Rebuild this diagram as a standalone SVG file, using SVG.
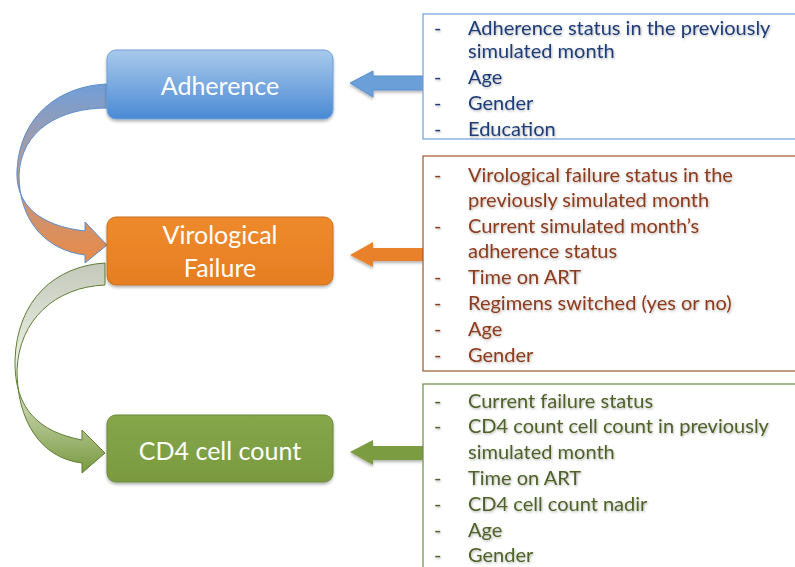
<svg xmlns="http://www.w3.org/2000/svg" width="795" height="567" viewBox="0 0 795 567">
<defs>
<linearGradient id="gBlue" x1="0" y1="0" x2="0" y2="1"><stop offset="0" stop-color="#a9c9ec"/><stop offset="1" stop-color="#4a8ad4"/></linearGradient>
<linearGradient id="gOrange" x1="0" y1="0" x2="0" y2="1"><stop offset="0" stop-color="#ee8a2c"/><stop offset="1" stop-color="#e67e22"/></linearGradient>
<linearGradient id="gGreen" x1="0" y1="0" x2="0" y2="1"><stop offset="0" stop-color="#86a64a"/><stop offset="1" stop-color="#7a9a40"/></linearGradient>
<linearGradient id="gCurve1" gradientUnits="userSpaceOnUse" x1="0" y1="84" x2="0" y2="263"><stop offset="0" stop-color="#6f9fd8"/><stop offset="0.45" stop-color="#b49a9a"/><stop offset="1" stop-color="#ea8a45"/></linearGradient>
<linearGradient id="gCurve2" gradientUnits="userSpaceOnUse" x1="0" y1="263" x2="0" y2="473"><stop offset="0" stop-color="#c4c9bc"/><stop offset="0.5" stop-color="#eef2e6"/><stop offset="1" stop-color="#78993e"/></linearGradient>
<filter id="sh" x="-10%" y="-10%" width="120%" height="130%"><feDropShadow dx="0" dy="2" stdDeviation="1.5" flood-color="#000" flood-opacity="0.3"/></filter>
<filter id="tsh" x="-5%" y="-20%" width="110%" height="150%"><feDropShadow dx="0.8" dy="1.2" stdDeviation="0.8" flood-color="#000" flood-opacity="0.3"/></filter>
</defs>
<style>
.node text{font-family:Lato,"Open Sans","Liberation Sans",sans-serif;font-size:25px;fill:#fff;text-anchor:middle}
.list text{font-family:Lato,"Open Sans","Liberation Sans",sans-serif;font-size:20px;filter:url(#tsh)}
.lb text{fill:#1f3d78}
.lo text{fill:#8e3b1c}
.lg text{fill:#4f6228}
</style>
<rect width="795" height="567" fill="#fff"/>
<g id="connectors">
<path d="M107,84 C60,86 20,115 17,170 C15,205 40,226 85,231 L85,222 L107,245 L85,263 L85,255 C45,250 19,220 19,175 C21,130 60,108 107,108 Z" fill="url(#gCurve1)" stroke="#5b8fcf" stroke-width="1"/>
<path d="M105,263 C55,266 17,300 15,360 C14,410 40,432 82,440 L82,430 L105,453 L82,473 L82,463 C40,458 17,420 17,370 C19,320 55,287 105,285 Z" fill="url(#gCurve2)" stroke="#5f7f33" stroke-width="1"/>
<path d="M423,76 L373,76 L373,71 L350,83 L373,97 L373,90 L423,90 Z" fill="#6a9fd8" stroke="#5b8fcf" stroke-width="1" filter="url(#sh)"/>
<path d="M423,248 L373,248 L373,242 L350,255 L373,267 L373,261 L423,261 Z" fill="#e8812a" filter="url(#sh)"/>
<path d="M423,446 L373,446 L373,440 L350,452 L373,465 L373,460 L423,460 Z" fill="#7c9c42" filter="url(#sh)"/>
</g>
<g id="adherence" class="node">
<rect x="107" y="50" width="226" height="69" rx="9" fill="url(#gBlue)" stroke="#6f9fd8" filter="url(#sh)"/>
<text x="220" y="95">Adherence</text>
</g>
<g id="virological" class="node">
<rect x="107" y="217" width="226" height="68" rx="9" fill="url(#gOrange)" stroke="#c8701e" filter="url(#sh)"/>
<text x="220" y="244">Virological</text>
<text x="220" y="277">Failure</text>
</g>
<g id="cd4" class="node">
<rect x="107" y="415" width="226" height="67" rx="9" fill="url(#gGreen)" stroke="#6b873a" filter="url(#sh)"/>
<text x="220" y="460">CD4 cell count</text>
</g>
<g id="list-adherence" class="list lb">
<rect x="423" y="14" width="380" height="125" fill="#fff" stroke="#6f9fd8" stroke-width="1.2"/>
<text x="434" y="35">-</text><text x="468" y="35">Adherence status in the previously</text>
<text x="468" y="58">simulated month</text>
<text x="434" y="84">-</text><text x="468" y="84">Age</text>
<text x="434" y="110">-</text><text x="468" y="110">Gender</text>
<text x="434" y="136">-</text><text x="468" y="136">Education</text>
</g>
<g id="list-virological" class="list lo">
<rect x="423" y="156" width="380" height="215" fill="#fff" stroke="#a0522d" stroke-width="1.2"/>
<text x="434" y="182">-</text><text x="468" y="182">Virological failure status in the</text>
<text x="468" y="207">previously simulated month</text>
<text x="434" y="233">-</text><text x="468" y="233">Current simulated month’s</text>
<text x="468" y="258">adherence status</text>
<text x="434" y="284">-</text><text x="468" y="284">Time on ART</text>
<text x="434" y="310">-</text><text x="468" y="310">Regimens switched (yes or no)</text>
<text x="434" y="336">-</text><text x="468" y="336">Age</text>
<text x="434" y="362">-</text><text x="468" y="362">Gender</text>
</g>
<g id="list-cd4" class="list lg">
<rect x="423" y="384" width="380" height="200" fill="#fff" stroke="#6e8b3d" stroke-width="1.2"/>
<text x="434" y="408">-</text><text x="468" y="408">Current failure status</text>
<text x="434" y="433">-</text><text x="468" y="433">CD4 count cell count in previously</text>
<text x="468" y="459">simulated month</text>
<text x="434" y="485">-</text><text x="468" y="485">Time on ART</text>
<text x="434" y="511">-</text><text x="468" y="511">CD4 cell count nadir</text>
<text x="434" y="537">-</text><text x="468" y="537">Age</text>
<text x="434" y="562">-</text><text x="468" y="562">Gender</text>
</g>
</svg>
